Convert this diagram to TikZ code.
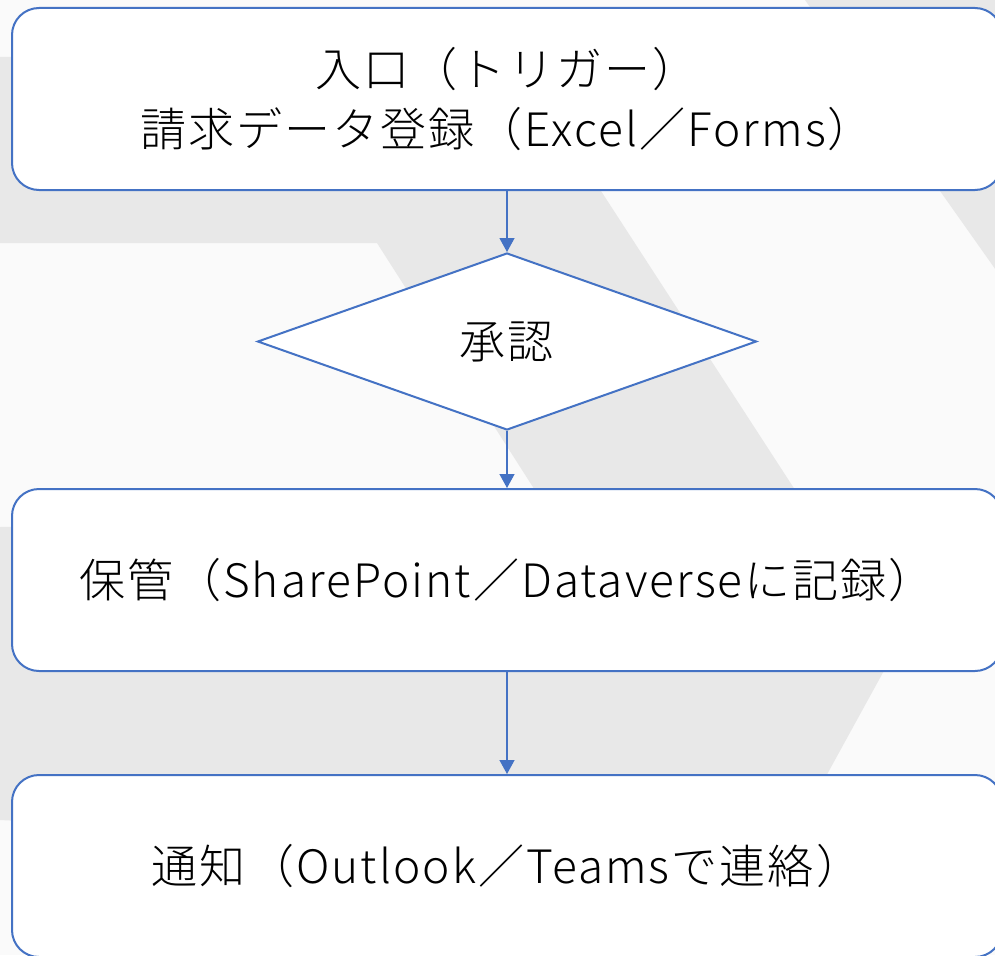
\documentclass[tikz,border=0pt]{standalone}
\usepackage{fontspec}
\setmainfont{Noto Sans CJK JP Light}[LetterSpace=4.5]
\usetikzlibrary{shapes.geometric,arrows.meta}
\definecolor{lineblue}{HTML}{4472C4}
\definecolor{bglight}{HTML}{FAFAFA}
\definecolor{bggrey}{HTML}{E8E8E8}
\tikzset{
  procbox/.style={draw=lineblue, line width=2pt, fill=white, rounded corners=27pt,
    minimum width=990pt, minimum height=182pt, align=center, inner sep=0pt,
    font=\fontsize{46}{60}\selectfont},
  decbox/.style={draw=lineblue, line width=2pt, fill=white, diamond, inner sep=0pt,
    minimum width=499pt, minimum height=177pt, font=\fontsize{46}{60}\selectfont},
  flow/.style={draw=lineblue, line width=1.3pt, -{Triangle[width=15pt,length=14pt]}}
}
\begin{document}
\begin{tikzpicture}[x=1pt,y=-1pt]
\clip (0,0) rectangle (995,955);
\fill[bglight] (0,0) rectangle (995,955);
% watermark shapes
\fill[bggrey] (0,57) -- (514,57) -- (897,647) -- (780,860) -- (0,820) -- (0,527)
  -- (554,520) -- (377,243) -- (0,243) -- cycle;
\fill[bggrey] (805,0) -- (1010,0) -- (1010,290) -- cycle;
% nodes
\node[procbox] (entry) at (507,99) {\raisebox{3pt}{入口（トリガー）}\\\raisebox{3pt}{請求データ登録（Excel／Forms）}};
\node[decbox] (approve) at (507,341.5) {承認};
\node[procbox] (store) at (507,580) {保管（SharePoint／Dataverseに記録）};
\node[procbox] (notify) at (507,866) {通知（Outlook／Teamsで連絡）};
% connectors
\draw[flow] (entry.south) -- (approve.north);
\draw[flow] (approve.south) -- (store.north);
\draw[flow] (store.south) -- (notify.north);
\end{tikzpicture}
\end{document}
